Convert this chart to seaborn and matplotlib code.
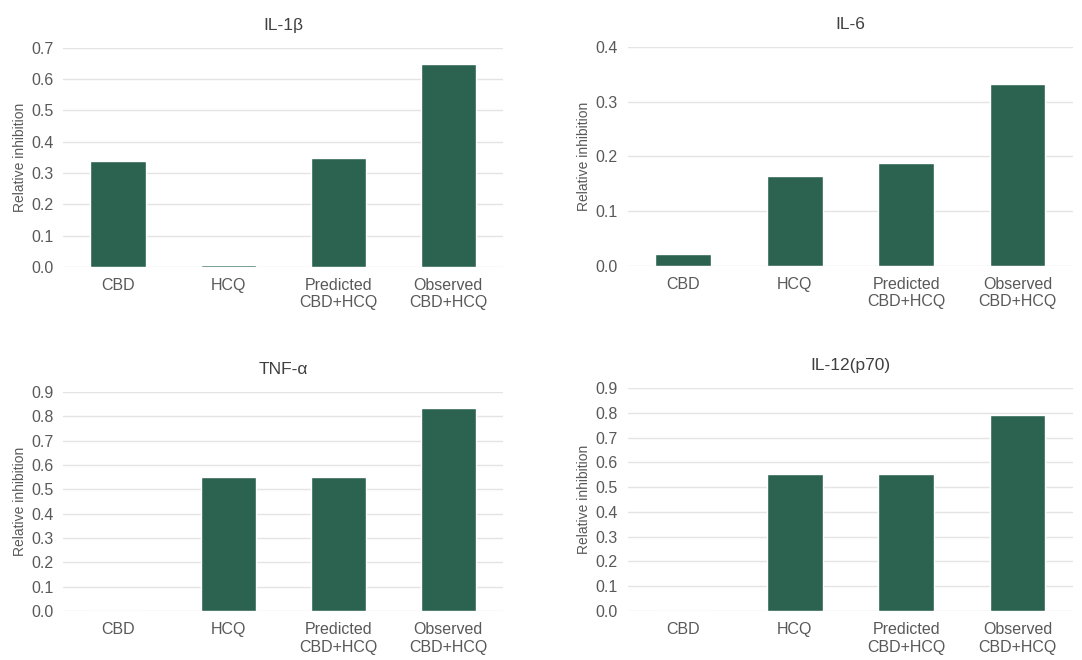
import matplotlib
matplotlib.use('Agg')
import matplotlib.pyplot as plt
import pandas as pd
import seaborn as sns

# Data
categories = ['CBD', 'HCQ', 'Predicted\nCBD+HCQ', 'Observed\nCBD+HCQ']
il1b = [0.34, 0.005, 0.348, 0.65]
il6 = [0.022, 0.165, 0.188, 0.333]
tnfa = [0.0, 0.552, 0.552, 0.832]
il12 = [0.0, 0.553, 0.553, 0.79]

panels = [
    ('IL-1β', il1b, 0.7, [0.0582, 0.5955, 0.407, 0.332]),
    ('IL-6', il6, 0.4, [0.580, 0.597, 0.412, 0.332]),
    ('TNF-α', tnfa, 0.9, [0.0582, 0.0742, 0.407, 0.332]),
    ('IL-12(p70)', il12, 0.9, [0.580, 0.0742, 0.412, 0.338]),
]

sns.set_theme(style='whitegrid')
plt.rcParams['font.family'] = ['Liberation Sans', 'DejaVu Sans']

bar_color = '#2b6350'
text_color = '#595959'

fig = plt.figure(figsize=(10.82, 6.6), dpi=100)

for title, values, ymax, pos in panels:
    ax = fig.add_axes(pos)
    df = pd.DataFrame({'cat': categories, 'value': values})
    sns.barplot(data=df, x='cat', y='value', color=bar_color, width=0.5,
                saturation=1, ax=ax)
    ax.set_xlim(-0.5, 3.5)
    ax.set_ylim(0, ymax)
    ax.set_yticks([round(i * 0.1, 1) for i in range(int(round(ymax * 10)) + 1)])
    ax.yaxis.set_major_formatter(matplotlib.ticker.FormatStrFormatter('%.1f'))
    ax.set_xlabel('')
    ax.set_ylabel('Relative inhibition', fontsize=10, color=text_color, labelpad=3)
    ax.set_title(title, fontsize=12.5, color='#404040', pad=13)
    ax.tick_params(axis='both', labelsize=11.5, colors=text_color, length=0)
    ax.tick_params(axis='x', pad=8)
    ax.tick_params(axis='y', pad=7)
    ax.grid(axis='y', color='#e4e4e4', linewidth=1)
    ax.grid(axis='x', visible=False)
    ax.set_axisbelow(True)
    for s in ax.spines.values():
        s.set_visible(False)

fig.savefig('out.png', dpi=100, facecolor='white')
